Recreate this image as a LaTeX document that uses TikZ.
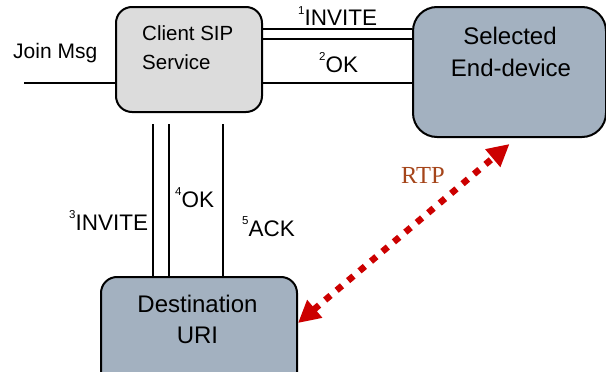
\documentclass[tikz,border=0pt]{standalone}
\usepackage{fontspec}
\setmainfont{Liberation Sans}
\newfontfamily\rtpfont{Liberation Serif}
\usetikzlibrary{arrows.meta}
\definecolor{boxgray}{HTML}{DCDCDC}
\definecolor{boxblue}{HTML}{A3B1C0}
\definecolor{rtpred}{HTML}{CC0000}
\definecolor{rtpbrown}{HTML}{A5451A}
\newcommand{\seqno}[1]{{\fontsize{11.5}{12}\selectfont\raisebox{12pt}{#1}}}
\tikzset{
  box/.style={draw=black, line width=2pt, rounded corners=16pt, inner sep=0pt},
  wire/.style={draw=black, line width=2pt},
  lbl/.style={anchor=base west, inner sep=0pt, font=\fontsize{22.5}{27}\selectfont},
  boxtext/.style={anchor=base, inner sep=0pt, font=\fontsize{24}{29}\selectfont},
  rtpline/.style={draw=rtpred, line width=6.5pt, dash pattern=on 7pt off 8pt,
    {Triangle[length=22pt,width=22pt]}-{Triangle[length=22pt,width=22pt]}},
}
\begin{document}
\begin{tikzpicture}[x=1pt, y=-1pt]
\useasboundingbox (0,0) rectangle (606,372);

% boxes
\node[box, fill=boxgray, minimum width=146pt, minimum height=105pt] (client) at (189,59.5) {};
\node[box, fill=boxblue, rounded corners=24pt, minimum width=193pt, minimum height=130pt] (enddev) at (509.5,72) {};
\node[box, fill=boxblue, minimum width=196pt, minimum height=113pt] (dest) at (199,333.5) {};

% box captions
\node[anchor=base west, inner sep=0pt, font=\fontsize{20.5}{25}\selectfont] (clientA) at (142,40) {Client SIP};
\node[anchor=base west, inner sep=0pt, font=\fontsize{20.5}{25}\selectfont] (clientB) at (142,69) {Service};
\node[boxtext] (enddevA) at (510,44) {Selected};
\node[boxtext] (enddevB) at (511,76) {End-device};
\node[boxtext] (destA) at (197.5,312) {Destination};
\node[boxtext] (destB) at (197.5,343) {URI};

% reference heights and columns of the signalling wires
\coordinate (inviteY) at (0,29);
\coordinate (okY) at (0,39);
\coordinate (okbY) at (0,83);
\coordinate (joinL) at (24,83);
\coordinate (colA) at (153,0);
\coordinate (colB) at (169,0);
\coordinate (colC) at (223,0);
\coordinate (ctop) at ([yshift=-11pt]client.south);

% client <-> selected end-device
\draw[wire] (client.east |- inviteY) -- (enddev.west |- inviteY);
\draw[wire] (client.east |- okY) -- (enddev.west |- okY);
\draw[wire] (client.east |- okbY) -- (enddev.west |- okbY);
% incoming join message
\draw[wire] (joinL) -- (client.west |- joinL);
% client <-> destination
\draw[wire] (ctop -| colA) -- (dest.north -| colA);
\draw[wire] (ctop -| colB) -- (dest.north -| colB);
\draw[wire] (ctop -| colC) -- (dest.north -| colC);

% message labels
\node[anchor=base west, inner sep=0pt, font=\fontsize{21}{25}\selectfont] (join) at (13,58) {Join Msg};
\node[lbl] (m1) at (298,26) {\seqno{1}INVITE};
\node[lbl] (m2) at (319,72) {\seqno{2}OK};
\node[lbl] (m3) at (69,230) {\seqno{3}INVITE};
\node[lbl] (m4) at (175,207) {\seqno{4}OK};
\node[lbl] (m5) at (242,236) {\seqno{5}ACK};

% media stream
\draw[rtpline] ([yshift=10.5pt]dest.east) -- ([yshift=-6pt]enddev.south);
\node[anchor=base west, inner sep=0pt, text=rtpbrown, font=\rtpfont\fontsize{24.5}{29}\selectfont] (rtp) at (401,183) {RTP};
\end{tikzpicture}
\end{document}
